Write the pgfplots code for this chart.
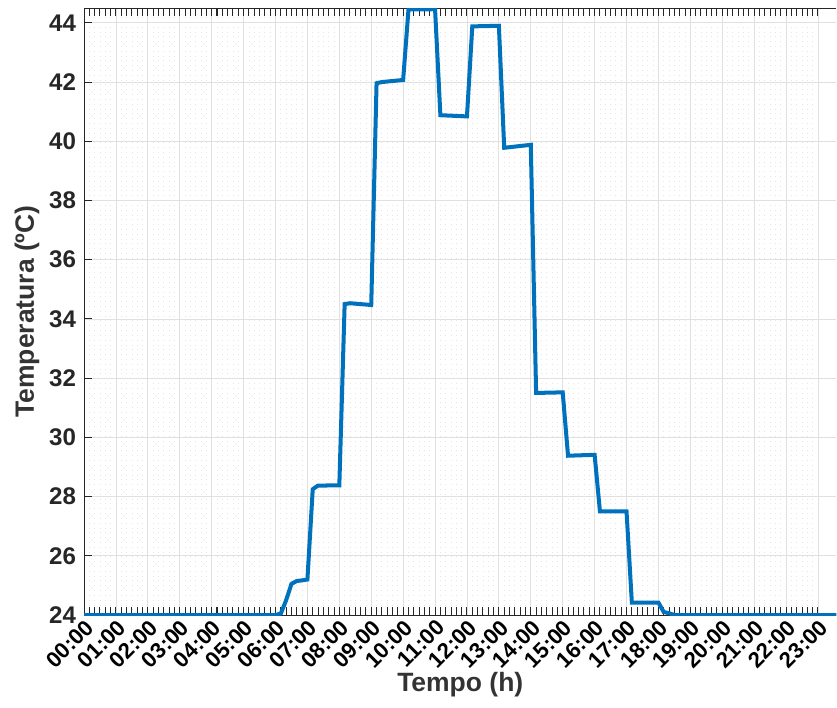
\documentclass[border=0pt]{standalone}
\usepackage{fontspec}
\setmainfont{Liberation Sans}
\usepackage{pgfplots}
\pgfplotsset{compat=1.18}
\definecolor{mlblue}{HTML}{0072BD}
\definecolor{axgray}{HTML}{262626}

\begin{document}
\begin{tikzpicture}
  \begin{axis}[
      name=ax,
      width=375pt, height=302.5pt, scale only axis,
      xmin=0, xmax=23.58,
      ymin=24, ymax=44.5,
      axis x line*=box, axis y line*=left,
      axis line style={axgray, line width=0.5pt},
      xtick={0,1,...,23},
      xticklabels={00:00,01:00,02:00,03:00,04:00,05:00,06:00,07:00,08:00,09:00,10:00,11:00,
        12:00,13:00,14:00,15:00,16:00,17:00,18:00,19:00,20:00,21:00,22:00,23:00},
      minor x tick num=5,
      ytick={24,26,...,44},
      tick align=inside,
      major tick length=3.8pt, minor tick length=3.8pt,
      tick style={axgray, line width=0.5pt},
      /pgf/number format/assume math mode=true,
      x tick label style={font=\bfseries\fontsize{11}{12}\selectfont, rotate=45,
        anchor=north east, text=black, inner sep=1pt},
      y tick label style={font=\bfseries\fontsize{12}{13}\selectfont, text=axgray, xshift=-0.5pt},
      xmajorgrids, ymajorgrids, xminorgrids,
      major grid style={draw=black!12, line width=0.4pt},
      minor grid style={draw=black!10, dotted, line width=0.4pt},
      xlabel={Tempo (h)},
      ylabel={Temperatura (ºC)},
      label style={font=\bfseries\fontsize{13.2}{15}\selectfont, text=black!80},
      xlabel style={yshift=3.5pt},
      ylabel style={yshift=-2pt},
    ]
    \addplot[mlblue, line width=2pt] coordinates {
      (0,24) (6.0,24) (6.167,24.05) (6.333,24.5) (6.5,25.05) (6.667,25.15) (6.833,25.17)
      (7.0,25.2) (7.167,28.25) (7.333,28.37) (8.0,28.38)
      (8.167,34.5) (8.333,34.53) (9.0,34.47)
      (9.167,41.96) (9.333,42.0) (10.0,42.07)
      (10.167,44.45) (11.0,44.46)
      (11.167,40.88) (12.0,40.84)
      (12.167,43.88) (13.0,43.9)
      (13.167,39.78) (14.0,39.88)
      (14.167,31.5) (15.0,31.52)
      (15.167,29.38) (16.0,29.41)
      (16.167,27.5) (17.0,27.5)
      (17.167,24.42) (18.0,24.42)
      (18.167,24.1) (18.333,24.06) (18.5,24.0) (23.58,24.0)
    };
  \end{axis}
  \path (ax.north) ++(0,4pt);
  \path (ax.outer west) ++(-4pt,0);
  \path (ax.outer south) ++(0,-2pt);
\end{tikzpicture}
\end{document}
